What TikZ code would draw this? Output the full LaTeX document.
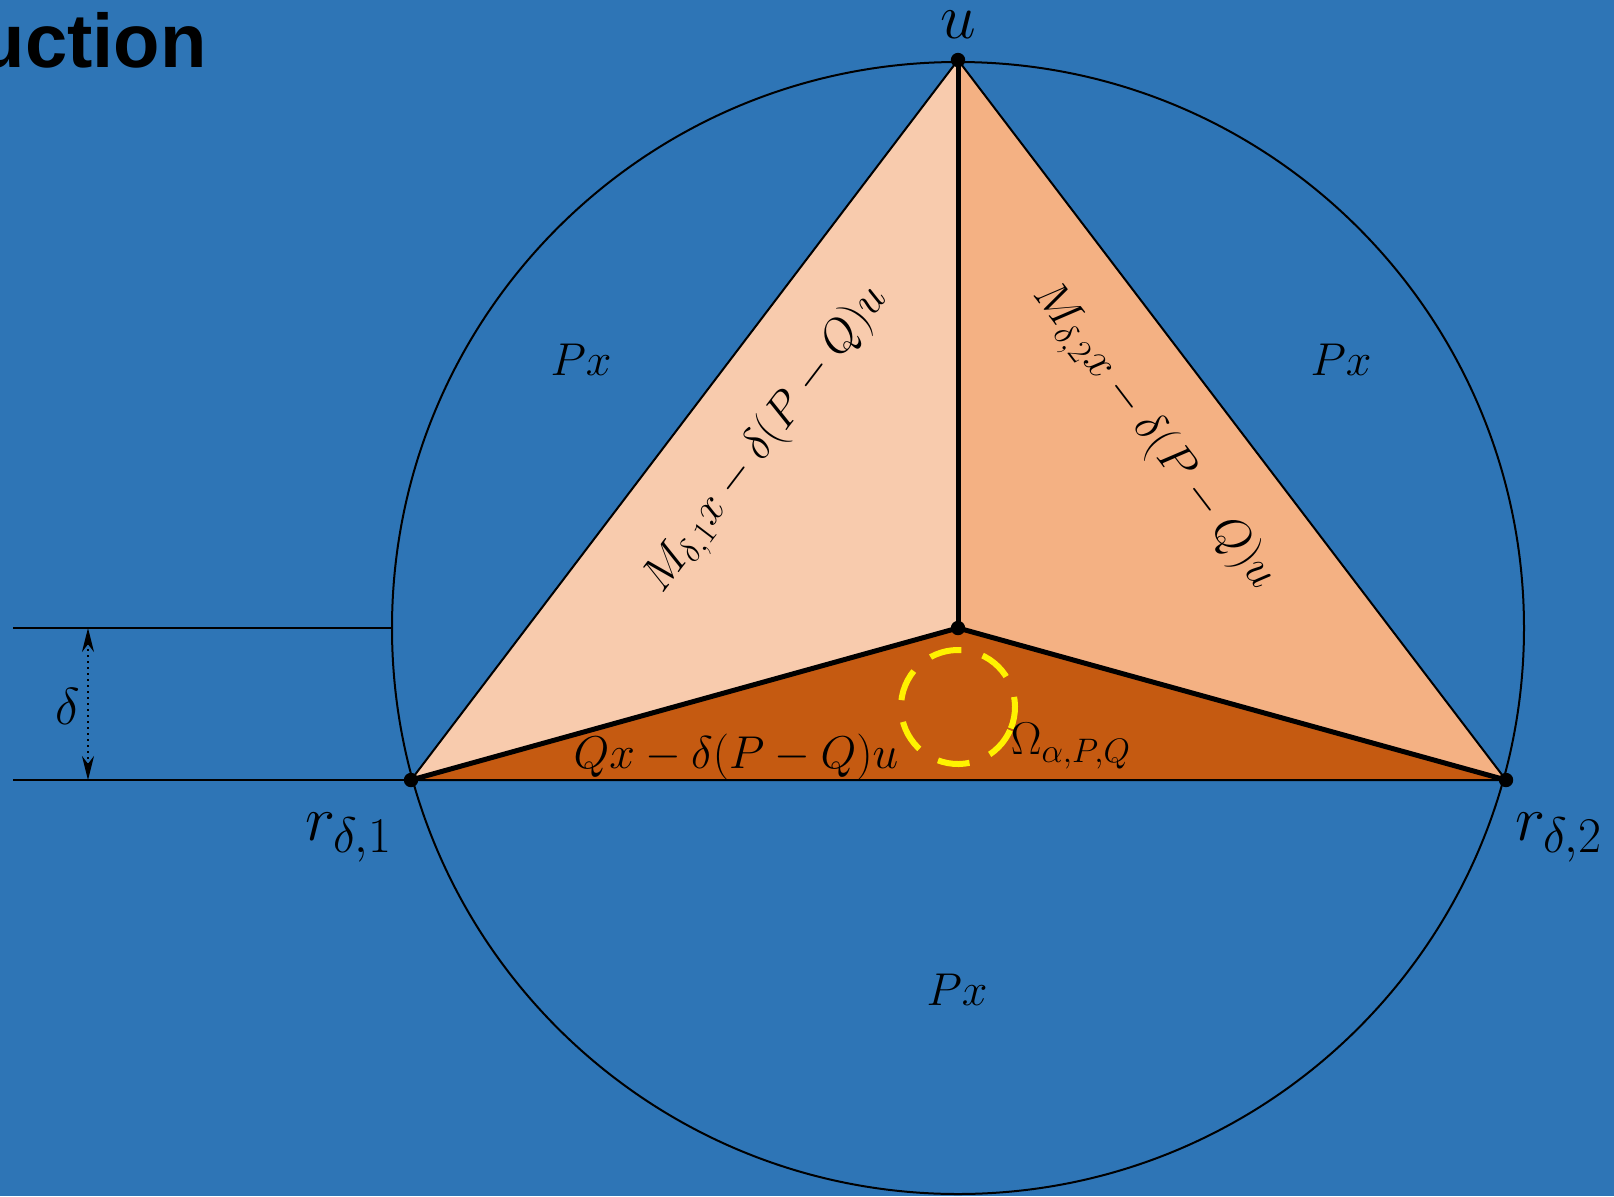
\RequirePackage{fix-cm}
\documentclass[tikz,border=0pt]{standalone}
\usepackage{fontspec}
\setsansfont{Liberation Sans}
\usetikzlibrary{arrows.meta}

\definecolor{slideblue}{HTML}{2E75B6}
\definecolor{peachlt}{HTML}{F8CBAD}
\definecolor{peachmd}{HTML}{F4B183}
\definecolor{rust}{HTML}{C55A11}
\DeclareMathSizes{23}{23}{17}{13}
\DeclareMathSizes{32}{32}{25}{19}

\begin{document}
\begin{tikzpicture}[x=0.5pt,y=-0.5pt,
  lbl/.style={inner sep=0pt,font=\fontsize{23}{28}\selectfont},
  biglbl/.style={inner sep=0pt,font=\fontsize{32}{38}\selectfont},
  thinln/.style={line width=1pt},
  thickln/.style={line width=2.5pt}]
\useasboundingbox[fill=slideblue] (0,0) rectangle (1614,1196);

% points of the construction
\coordinate (ctr) at (958,628);
\coordinate (u) at (958,60);
\coordinate (r1) at (411,780);
\coordinate (r2) at (1506,780);
\coordinate (cl) at (392,628);
\coordinate (hl1) at (13,628);
\coordinate (hl2) at (13,780);
\coordinate (dtop) at (88,628);
\coordinate (dbot) at (88,780);

\node[anchor=base east,inner sep=0pt,font=\sffamily\bfseries\fontsize{38}{45}\selectfont] (title) at (207,67) {uction};

\draw[thinln] (ctr) circle[radius=283pt];

% the three triangles
\fill[peachlt] (r1)--(u)--(ctr)--cycle;
\fill[peachmd] (u)--(r2)--(ctr)--cycle;
\fill[rust] (r1)--(ctr)--(r2)--cycle;
\draw[thinln] (r1)--(u)--(r2)--cycle;
\draw[thickln] (u)--(ctr);
\draw[thickln] (r1)--(ctr)--(r2);

\draw[yellow,line width=3pt,dash pattern=on 16pt off 11pt] (958,707) ++(-22:28.5pt) arc[start angle=-22,end angle=338,radius=28.5pt];

\foreach \p in {u,ctr,r1,r2} \fill (\p) circle (3.6pt);

% delta strip
\draw[thinln] (hl1)--(cl);
\draw[thinln] (hl2)--(r1);
\draw[thinln,dotted,{Stealth[length=12pt,width=6pt]}-{Stealth[length=12pt,width=6pt]}] (dtop)--(dbot);
\node[inner sep=0pt,font=\fontsize{26}{30}\selectfont] (dlbl) at (68,706) {$\delta$};

% labels
\node[biglbl] (ulbl) at (958,25) {$u$};
\node[biglbl,anchor=base west] (r1lbl) at (305,840) {$r_{\delta,1}$};
\node[biglbl,anchor=base west] (r2lbl) at (1515,840) {$r_{\delta,2}$};
\node[lbl] (px1) at (581,360) {$Px$};
\node[lbl] (px2) at (1341,360) {$Px$};
\node[lbl] (px3) at (957,990) {$Px$};
\node[lbl,rotate=52.7] (m1lbl) at (767,440) {$M_{\delta,1}x-\delta(P-Q)u$};
\node[lbl,rotate=-52.7] (m2lbl) at (1153,437) {$M_{\delta,2}x-\delta(P-Q)u$};
\node[lbl] (qlbl) at (736,757) {$Qx-\delta(P-Q)u$};
\node[lbl] (omlbl) at (1071,746) {$\Omega_{\alpha,P,Q}$};
\end{tikzpicture}
\end{document}
